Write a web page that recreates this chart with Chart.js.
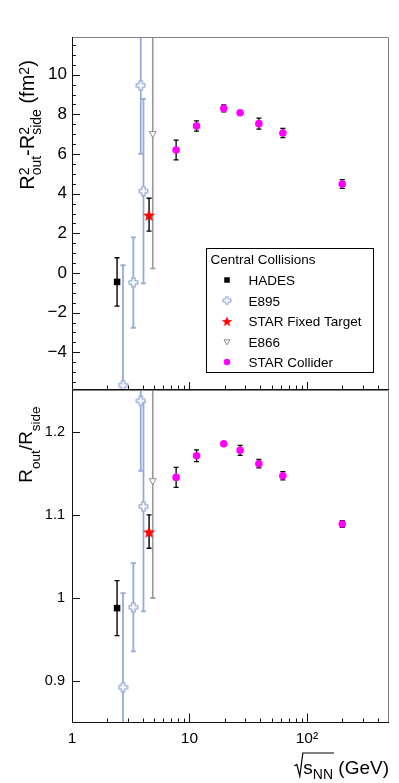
<!DOCTYPE html>
<html>
<head>
<meta charset="utf-8">
<script src="https://cdn.jsdelivr.net/npm/chart.js@4.4.1/dist/chart.umd.min.js"></script>
<style>
  html, body { margin: 0; padding: 0; background: #fff; }
  #wrap { position: relative; width: 399px; height: 783px; }
  #wrap canvas { position: absolute; left: 0; top: 0; }
</style>
</head>
<body>
<div id="wrap">
  <canvas id="topChart" width="399" height="783"></canvas>
  <canvas id="bottomChart" width="399" height="783"></canvas>
</div>
<script>
// values (x = sqrt(s_NN) in GeV)
const hadesX = [2.42];
const hadesR2 = [-0.45];
const hadesR2Err = [1.22];
const hadesRatio = [0.988];
const hadesRatioErr = [0.033];

const e895X = [2.72, 3.33, 3.85, 4.06];
const e895R2 = [-5.66, -0.48, 9.46, 4.13];
const e895R2Err = [6.05, 2.28, 3.45, 4.65];
const e895Ratio = [0.893, 0.989, 1.237, 1.110];
const e895RatioErr = [0.113, 0.053, 0.084, 0.126];

const fxtX = [4.53];
const fxtR2 = [2.94];
const fxtR2Err = [0.83];
const fxtRatio = [1.080];
const fxtRatioErr = [0.020];

const e866X = [4.87];
const e866R2 = [7.03];
const e866R2Err = [6.8];
const e866Ratio = [1.141];
const e866RatioErr = [0.141];

const colliderX = [7.7, 11.5, 19.6, 27, 39, 62.4, 200];
const colliderR2 = [6.2, 7.41, 8.3, 8.08, 7.53, 7.06, 4.49];
const colliderR2Err = [0.5, 0.26, 0.18, 0.1, 0.28, 0.23, 0.22];
const colliderRatio = [1.145, 1.171, 1.1855, 1.1775, 1.1615, 1.147, 1.089];
const colliderRatioErr = [0.012, 0.007, 0.002, 0.006, 0.005, 0.005, 0.004];

// axis ticks
const energyTicks = [1, 10, 100];
const energyLabels = ["1", "10", "10\u00B2"];
const r2Ticks = [-4, -2, 0, 2, 4, 6, 8, 10];
const ratioTicks = [0.9, 1, 1.1, 1.2];

const FONT = '"Liberation Sans", Arial, Helvetica, sans-serif';
const BLUE = "#94acdc";

// marker images
function openCross(color) {
  const c = document.createElement("canvas");
  c.width = 11; c.height = 11;
  const g = c.getContext("2d");
  const m = 5.5, w = 1.7, l = 4.3;
  g.beginPath();
  g.moveTo(m - w, m - l); g.lineTo(m + w, m - l); g.lineTo(m + w, m - w);
  g.lineTo(m + l, m - w); g.lineTo(m + l, m + w); g.lineTo(m + w, m + w);
  g.lineTo(m + w, m + l); g.lineTo(m - w, m + l); g.lineTo(m - w, m + w);
  g.lineTo(m - l, m + w); g.lineTo(m - l, m - w); g.lineTo(m - w, m - w);
  g.closePath();
  g.fillStyle = "#fff"; g.fill();
  g.strokeStyle = color; g.lineWidth = 1.3; g.stroke();
  return c;
}
function filledStar(color, size) {
  const c = document.createElement("canvas");
  c.width = size; c.height = size;
  const g = c.getContext("2d");
  const m = size / 2, ro = size / 2 - 0.5, ri = ro * 0.42;
  g.beginPath();
  for (let i = 0; i < 10; i++) {
    const r = i % 2 ? ri : ro;
    const a = -Math.PI / 2 + i * Math.PI / 5;
    const px = m + r * Math.cos(a), py = m + 1 + r * Math.sin(a);
    if (i) g.lineTo(px, py); else g.moveTo(px, py);
  }
  g.closePath();
  g.fillStyle = color; g.fill();
  return c;
}

const series = [
  { label: "HADES", x: hadesX, r2: hadesR2, r2Err: hadesR2Err, ratio: hadesRatio, ratioErr: hadesRatioErr,
    style: "rect", radius: 4.6, rotation: 0, bg: "#000", border: "#000", bw: 0, bar: "#000", barW: 1.4 },
  { label: "E895", x: e895X, r2: e895R2, r2Err: e895R2Err, ratio: e895Ratio, ratioErr: e895RatioErr,
    style: openCross(BLUE), radius: 5, rotation: 0, bg: "#fff", border: BLUE, bw: 0, bar: BLUE, barW: 1.8 },
  { label: "STAR Fixed Target", x: fxtX, r2: fxtR2, r2Err: fxtR2Err, ratio: fxtRatio, ratioErr: fxtRatioErr,
    style: filledStar("#ff0000", 14), radius: 6, rotation: 0, bg: "#f00", border: "#f00", bw: 0, bar: "#000", barW: 1.4 },
  { label: "E866", x: e866X, r2: e866R2, r2Err: e866R2Err, ratio: e866Ratio, ratioErr: e866RatioErr,
    style: "triangle", radius: 4, rotation: 180, bg: "#fff", border: "#8c8c8c", bw: 1, bar: "#999", barW: 1.6 },
  { label: "STAR Collider", x: colliderX, r2: colliderR2, r2Err: colliderR2Err, ratio: colliderRatio, ratioErr: colliderRatioErr,
    style: "circle", radius: 3.8, rotation: 0, bg: "#ff00ff", border: "#ff00ff", bw: 0, bar: "#000", barW: 1.3 },
];

function makeDatasets(valKey, errKey) {
  return series.map((s) => ({
    label: s.label,
    data: s.x.map((x, i) => ({ x: x, y: s[valKey][i] })),
    errors: s[errKey],
    barColor: s.bar,
    barWidth: s.barW,
    pointStyle: s.style,
    pointRadius: s.radius,
    pointRotation: s.rotation,
    pointBackgroundColor: s.bg,
    pointBorderColor: s.border,
    pointBorderWidth: s.bw,
    showLine: false,
  }));
}

// vertical error bars with small caps, clipped to the frame
const errorBars = {
  id: "errorBars",
  beforeDatasetsDraw(chart) {
    const ctx = chart.ctx, a = chart.chartArea;
    const xs = chart.scales.x, ys = chart.scales.y;
    ctx.save();
    ctx.beginPath();
    ctx.rect(a.left, a.top, a.right - a.left, a.bottom - a.top);
    ctx.clip();
    chart.data.datasets.forEach((ds) => {
      ctx.strokeStyle = ds.barColor;
      ctx.lineWidth = ds.barWidth;
      ds.data.forEach((p, i) => {
        const e = ds.errors[i];
        const px = xs.getPixelForValue(p.x);
        const y1 = ys.getPixelForValue(p.y + e);
        const y2 = ys.getPixelForValue(p.y - e);
        ctx.beginPath();
        ctx.moveTo(px, y1); ctx.lineTo(px, y2);
        ctx.moveTo(px - 2.5, y1); ctx.lineTo(px + 2.5, y1);
        ctx.moveTo(px - 2.5, y2); ctx.lineTo(px + 2.5, y2);
        ctx.stroke();
      });
    });
    ctx.restore();
  },
};

// frame and inward ticks (ROOT style)
const frame = {
  id: "frame",
  afterDatasetsDraw(chart, args, opts) {
    const ctx = chart.ctx, a = chart.chartArea;
    const xs = chart.scales.x, ys = chart.scales.y;
    ctx.save();
    ctx.lineWidth = 1;
    ctx.strokeStyle = "#808080";
    ctx.beginPath();
    ctx.moveTo(a.left, a.top + 0.5);
    ctx.lineTo(a.right - 0.5, a.top + 0.5);
    ctx.lineTo(a.right - 0.5, a.bottom);
    ctx.stroke();
    ctx.strokeStyle = "#111";
    ctx.beginPath();
    ctx.moveTo(a.left + 0.5, a.top);
    ctx.lineTo(a.left + 0.5, a.bottom - 0.5);
    ctx.lineTo(a.right, a.bottom - 0.5);
    // y ticks
    const n0 = Math.ceil(ys.min / opts.yMinor - 1e-6), n1 = Math.floor(ys.max / opts.yMinor + 1e-6);
    for (let n = n0; n <= n1; n++) {
      const v = n * opts.yMinor;
      const major = Math.abs(v / opts.yMajor - Math.round(v / opts.yMajor)) < 1e-6;
      const py = Math.round(ys.getPixelForValue(v)) + 0.5;
      ctx.moveTo(a.left, py);
      ctx.lineTo(a.left + (major ? 8 : 4), py);
    }
    // log x ticks
    for (let d = 1; d <= 100; d *= 10) {
      for (let m = 1; m <= 9; m++) {
        const v = m * d;
        if (v <= xs.min || v >= xs.max) continue;
        const px = Math.round(xs.getPixelForValue(v)) + 0.5;
        ctx.moveTo(px, a.bottom);
        ctx.lineTo(px, a.bottom - (m === 1 ? opts.xMajorLen : opts.xMinorLen));
      }
    }
    ctx.stroke();
    ctx.restore();
  },
};

// text with super/subscripts
function measureRich(ctx, parts, main, small) {
  let w = 0;
  parts.forEach((p) => {
    if (p.t !== undefined) {
      ctx.font = main;
      p.w = ctx.measureText(p.t).width;
    } else {
      ctx.font = small;
      p.w = Math.max(p.sup ? ctx.measureText(p.sup).width : 0, p.sub ? ctx.measureText(p.sub).width : 0);
    }
    w += p.w;
  });
  return w;
}
function drawRich(ctx, parts, x, y, main, small, supDy, subDy) {
  parts.forEach((p) => {
    if (p.t !== undefined) {
      ctx.font = main;
      ctx.fillText(p.t, x, y);
    } else {
      ctx.font = small;
      if (p.sup) ctx.fillText(p.sup, x, y + supDy);
      if (p.sub) ctx.fillText(p.sub, x, y + subDy);
    }
    x += p.w;
  });
}

const yTitle = {
  id: "yTitle",
  afterDraw(chart, args, opts) {
    const ctx = chart.ctx;
    const main = opts.size + "px " + FONT, small = opts.small + "px " + FONT;
    ctx.save();
    ctx.fillStyle = "#000";
    ctx.textAlign = "left";
    ctx.textBaseline = "alphabetic";
    const w = measureRich(ctx, opts.parts, main, small);
    ctx.translate(opts.x, opts.y);
    ctx.rotate(-Math.PI / 2);
    drawRich(ctx, opts.parts, -w / 2, 0, main, small, -5, 7.5);
    ctx.restore();
  },
};

// sqrt(s_NN) (GeV), right aligned under the lower frame
const xTitle = {
  id: "xTitle",
  afterDraw(chart) {
    const ctx = chart.ctx, a = chart.chartArea;
    const main = "19px " + FONT, small = "14px " + FONT;
    ctx.save();
    ctx.fillStyle = "#000";
    ctx.strokeStyle = "#000";
    ctx.textBaseline = "alphabetic";
    ctx.textAlign = "left";
    ctx.font = main;
    const wS = ctx.measureText("s").width;
    const wRest = ctx.measureText(" (GeV)").width;
    ctx.font = small;
    const wNN = ctx.measureText("NN").width;
    const base = 774;
    const x0 = a.right - (9 + wS + wNN + wRest);
    ctx.lineWidth = 1.2;
    ctx.beginPath();
    ctx.moveTo(x0, base - 8);
    ctx.lineTo(x0 + 2.5, base - 9.5);
    ctx.lineTo(x0 + 5.5, base + 2);
    ctx.lineTo(x0 + 8.5, base - 21);
    ctx.lineTo(x0 + 9 + wS + wNN + 1, base - 21);
    ctx.stroke();
    ctx.font = main;
    ctx.fillText("s", x0 + 9, base);
    ctx.font = small;
    ctx.fillText("NN", x0 + 9 + wS, base + 5);
    ctx.font = main;
    ctx.fillText(" (GeV)", x0 + 9 + wS + wNN, base);
    ctx.restore();
  },
};

function drawMarker(ctx, s, x, y, r) {
  ctx.save();
  ctx.fillStyle = s.bg;
  ctx.strokeStyle = s.border;
  ctx.lineWidth = 1;
  if (typeof s.style !== "string") {
    const k = r / s.radius;
    ctx.drawImage(s.style, x - s.style.width * k / 2, y - s.style.height * k / 2, s.style.width * k, s.style.height * k);
  } else if (s.style === "rect") {
    const h = r * Math.SQRT1_2;
    ctx.fillRect(x - h, y - h, 2 * h, 2 * h);
  } else if (s.style === "circle") {
    ctx.beginPath();
    ctx.arc(x, y, r, 0, 2 * Math.PI);
    ctx.fill();
  } else if (s.style === "triangle") {
    ctx.beginPath();
    ctx.moveTo(x - r * 0.87, y - r * 0.5);
    ctx.lineTo(x + r * 0.87, y - r * 0.5);
    ctx.lineTo(x, y + r);
    ctx.closePath();
    ctx.fill();
    ctx.stroke();
  }
  ctx.restore();
}

// boxed legend inside the upper panel
const legendBox = {
  id: "legendBox",
  afterDraw(chart) {
    const ctx = chart.ctx;
    const bx = 206.5, by = 248.5, bw = 167, bh = 124;
    ctx.save();
    ctx.fillStyle = "#fff";
    ctx.fillRect(bx, by, bw, bh);
    ctx.strokeStyle = "#000";
    ctx.lineWidth = 1;
    ctx.strokeRect(bx, by, bw, bh);
    ctx.fillStyle = "#000";
    ctx.font = "13.5px " + FONT;
    ctx.textBaseline = "alphabetic";
    ctx.fillText("Central Collisions", 210.5, 264);
    series.forEach((s, i) => {
      const base = 285 + i * 20.5;
      drawMarker(ctx, s, 227, base - 5, s.radius * 0.85);
      ctx.fillStyle = "#000";
      ctx.font = "13.5px " + FONT;
      ctx.fillText(s.label, 248.5, base);
    });
    ctx.restore();
  },
};

const xScale = {
  type: "logarithmic",
  min: 1,
  max: 500,
  grid: { display: false, drawTicks: false },
  border: { display: false },
};

function minusSign(v) {
  const t = String(+v.toFixed(2));
  return v < 0 ? "\u2212" + t.slice(1) : t;
}

// upper panel: R_out^2 - R_side^2
new Chart(document.getElementById("topChart"), {
  type: "scatter",
  data: { datasets: makeDatasets("r2", "r2Err") },
  options: {
    responsive: false,
    animation: false,
    events: [],
    layout: { padding: { top: 37, right: 10, bottom: 783 - 390, left: 0 } },
    scales: {
      x: Object.assign({}, xScale, { display: false }),
      y: {
        min: -5.9,
        max: 11.9,
        afterFit: (s) => { s.width = 72; },
        afterBuildTicks: (s) => { s.ticks = r2Ticks.map((v) => ({ value: v })); },
        grid: { display: false, drawTicks: false },
        border: { display: false },
        ticks: { color: "#000", padding: 5, font: { family: FONT, size: 17 }, callback: minusSign },
      },
    },
    plugins: {
      legend: { display: false },
      tooltip: { enabled: false },
      frame: { yMinor: 0.5, yMajor: 2, xMajorLen: 8, xMinorLen: 4.5 },
      yTitle: {
        x: 33.5, y: 125, size: 20, small: 14,
        parts: [{ t: "R" }, { sup: "2", sub: "out" }, { t: "-R" }, { sup: "2", sub: "side" }, { t: " (fm" }, { sup: "2" }, { t: ")" }],
      },
    },
  },
  plugins: [errorBars, frame, yTitle, legendBox],
});

// lower panel: R_out / R_side
new Chart(document.getElementById("bottomChart"), {
  type: "scatter",
  data: { datasets: makeDatasets("ratio", "ratioErr") },
  options: {
    responsive: false,
    animation: false,
    events: [],
    layout: { padding: { top: 390, right: 10, bottom: 0, left: 0 } },
    scales: {
      x: Object.assign({}, xScale, {
        afterFit: (s) => { s.height = 783 - 723; },
        afterBuildTicks: (s) => { s.ticks = energyTicks.map((v) => ({ value: v })); },
        ticks: {
          color: "#000", padding: 6, autoSkip: false, maxRotation: 0,
          font: { family: FONT, size: 15.5 },
          callback: (v) => energyLabels[energyTicks.indexOf(v)],
        },
      }),
      y: {
        min: 0.85,
        max: 1.25,
        afterFit: (s) => { s.width = 72; },
        afterBuildTicks: (s) => { s.ticks = ratioTicks.map((v) => ({ value: v })); },
        grid: { display: false, drawTicks: false },
        border: { display: false },
        ticks: { color: "#000", padding: 7, font: { family: FONT, size: 14.5 }, callback: minusSign },
      },
    },
    plugins: {
      legend: { display: false },
      tooltip: { enabled: false },
      frame: { yMinor: 0.1, yMajor: 0.1, xMajorLen: 9.5, xMinorLen: 4.5 },
      yTitle: {
        x: 32, y: 444.5, size: 19, small: 13.5,
        parts: [{ t: "R" }, { sub: "out" }, { t: "/R" }, { sub: "side" }],
      },
    },
  },
  plugins: [errorBars, frame, yTitle, xTitle],
});
</script>
</body>
</html>
